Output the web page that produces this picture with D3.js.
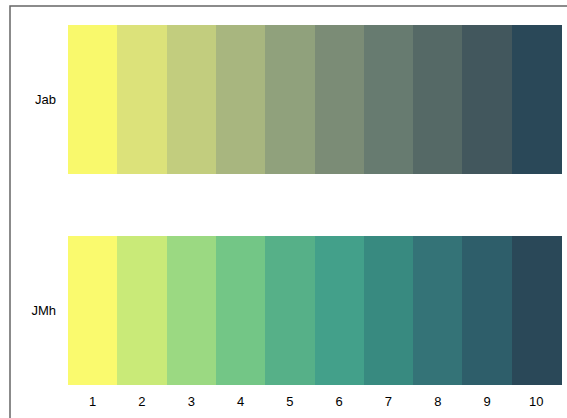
<!DOCTYPE html>
<html><head><meta charset="utf-8">
<script src="https://cdn.jsdelivr.net/npm/d3@7"></script>
<style>html,body{margin:0;padding:0;background:#fff;overflow:hidden}</style>
</head><body>
<script>
const steps = ["1","2","3","4","5","6","7","8","9","10"];
const rows = ["Jab","JMh"];
const jabColors = ["#f9f96c","#dce27a","#c2cd7e","#a8b67f","#90a17c","#7b8c76","#677b70","#556966","#42575d","#2a4858"];
const jmhColors = ["#fafa6e","#c9ea78","#9bd982","#73c686","#56b088","#43a08a","#388a80","#347377","#2e5e6a","#2a4858"];
const colorsByRow = {Jab: jabColors, JMh: jmhColors};

const W = 567, H = 418;
const svg = d3.select("body").append("svg").attr("width", W).attr("height", H);

svg.append("rect").attr("x", 10).attr("y", 6).attr("width", W + 10).attr("height", H + 10)
  .attr("fill", "none").attr("stroke", "#666").attr("stroke-width", 1.5);

const x = d3.scaleBand().domain(steps).range([68, 561]).padding(0);
const y = d3.scaleBand().domain(rows).range([25, 385]).paddingInner(0.294).paddingOuter(0);

const cells = [];
rows.forEach(r => steps.forEach((s, i) => cells.push({row: r, step: s, color: colorsByRow[r][i]})));

svg.append("g").selectAll("rect").data(cells).join("rect")
  .attr("x", d => x(d.step)).attr("y", d => y(d.row))
  .attr("width", x.bandwidth() + 0.5).attr("height", y.bandwidth())
  .attr("fill", d => d.color).attr("shape-rendering", "crispEdges");

const font = "'Liberation Sans', Arial, Helvetica, sans-serif";
const xAxis = svg.append("g").attr("transform", "translate(0,385)")
  .call(d3.axisBottom(x).tickSize(0).tickPadding(12));
xAxis.select(".domain").remove();
xAxis.selectAll("text").attr("font-family", font).attr("font-size", 13).attr("fill", "#000");

const yAxis = svg.append("g").attr("transform", "translate(68,0)")
  .call(d3.axisLeft(y).tickSize(0).tickPadding(12));
yAxis.select(".domain").remove();
yAxis.selectAll("text").attr("font-family", font).attr("font-size", 13).attr("fill", "#000");
</script>
</body></html>
